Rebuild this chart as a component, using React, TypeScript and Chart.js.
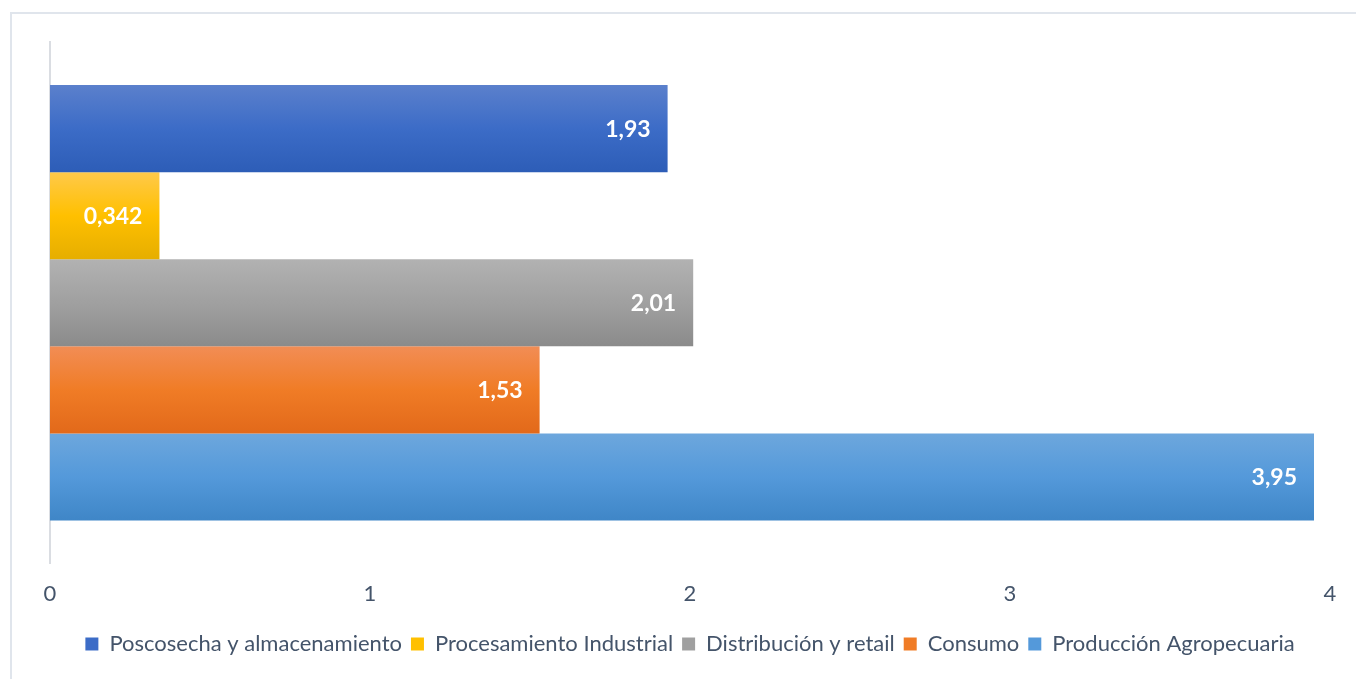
import React, { useEffect, useRef } from "react";
import { Chart, registerables } from "chart.js";

Chart.register(...registerables);

const categories = [""];
const seriesNames = [
  "Poscosecha y almacenamiento",
  "Procesamiento Industrial",
  "Distribución y retail",
  "Consumo",
  "Producción Agropecuaria",
];
const seriesValues = [1.93, 0.342, 2.01, 1.53, 3.95];
const xMin = 0;
const xMax = 4;
const colorTop = ["#5b80cc", "#ffc94a", "#b2b2b2", "#f28d55", "#6da7dd"];
const colorMid = ["#3c6cc7", "#ffc000", "#a0a0a0", "#f07c26", "#5499da"];
const colorBottom = ["#2d5db7", "#e6ae00", "#8b8b8b", "#e2691a", "#3f86c7"];

const TEXT = "#44546A";
const FONT = "Lato";

const formatValue = (v: number) => String(v).replace(".", ",");

const valueLabelPlugin = {
  id: "valueLabels",
  afterDatasetsDraw(chart: any) {
    const ctx = chart.ctx;
    ctx.save();
    ctx.font = `bold 23px ${FONT}`;
    ctx.fillStyle = "#ffffff";
    ctx.textAlign = "right";
    ctx.textBaseline = "middle";
    chart.data.datasets.forEach((ds: any, i: number) => {
      const meta = chart.getDatasetMeta(i);
      meta.data.forEach((el: any, j: number) => {
        ctx.fillText(formatValue(ds.data[j]), el.x - 17, el.y + 1);
      });
    });
    ctx.restore();
  },
};

export default function App() {
  const ref = useRef<HTMLCanvasElement | null>(null);
  useEffect(() => {
    if (!ref.current) return;
    const chart = new Chart(ref.current, {
      type: "bar",
      data: {
        labels: categories,
        datasets: seriesNames.map((name, i) => ({
          label: name,
          data: [seriesValues[i]],
          backgroundColor: (c: any) => {
            const el = c.element;
            if (!el || el.y === undefined || el.height === undefined || !isFinite(el.y)) return colorMid[i];
            const g = c.chart.ctx.createLinearGradient(0, el.y - el.height / 2, 0, el.y + el.height / 2);
            g.addColorStop(0, colorTop[i]);
            g.addColorStop(0.5, colorMid[i]);
            g.addColorStop(1, colorBottom[i]);
            return g;
          },
          borderWidth: 0,
          barPercentage: 1,
          categoryPercentage: 0.835,
        })),
      },
      options: {
        indexAxis: "y",
        responsive: false,
        animation: false,
        maintainAspectRatio: false,
        layout: { padding: { left: 50, right: 26, top: 42, bottom: 14 } },
        scales: {
          x: {
            min: xMin,
            max: xMax,
            grid: { display: false, drawTicks: false },
            border: { display: false },
            ticks: { stepSize: 1, color: TEXT, font: { family: FONT, size: 22 }, padding: 17 },
          },
          y: {
            grid: { display: false, drawTicks: false },
            border: { display: true, color: "#dadde2", width: 2 },
            ticks: { display: false },
          },
        },
        plugins: {
          tooltip: { enabled: false },
          legend: {
            position: "bottom",
            labels: {
              color: TEXT,
              font: { family: FONT, size: 22 },
              boxWidth: 13,
              boxHeight: 13,
              padding: 9,
              generateLabels: (ch: any) =>
                ch.data.datasets.map((ds: any, i: number) => ({
                  text: ds.label,
                  fillStyle: colorMid[i],
                  strokeStyle: colorMid[i],
                  lineWidth: 0,
                  hidden: false,
                  datasetIndex: i,
                  fontColor: TEXT,
                })),
            },
          },
        },
      },
      plugins: [valueLabelPlugin],
    } as any);
    chart.update();
    return () => chart.destroy();
  }, []);
  return (
    <div style={{ position: "fixed", left: 0, top: 0, width: 1356, height: 679, background: "#fff", overflow: "hidden" }}>
      <div
        style={{
          position: "absolute",
          left: 10,
          top: 12,
          width: 1400,
          height: 700,
          borderTop: "2px solid #e0e5ec",
          borderLeft: "2px solid #e0e5ec",
        }}
      />
      <canvas ref={ref} width={1356} height={679} style={{ position: "absolute", left: 0, top: 0 }} />
    </div>
  );
}
